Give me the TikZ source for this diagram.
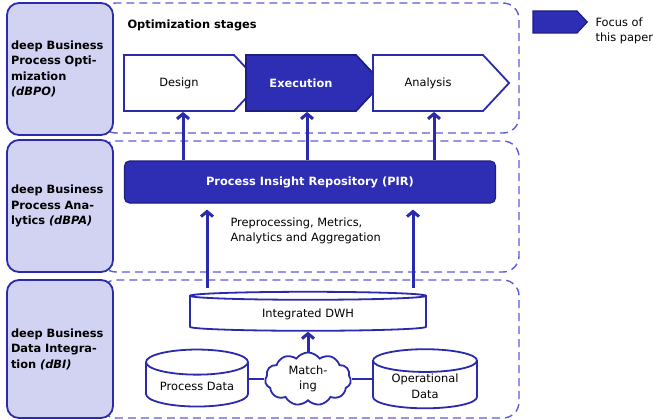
\documentclass[tikz,border=0pt]{standalone}
\usepackage{fontspec}
\setmainfont{DejaVu Sans}
\usepackage{xcolor}
\usepackage{tikz}
\usetikzlibrary{shapes,shapes.geometric,shapes.symbols}
\usetikzlibrary{calc,arrows.meta,positioning}
\definecolor{dblue}{RGB}{46,46,180}
\definecolor{lblue}{RGB}{42,42,172}
\definecolor{edgeb}{RGB}{30,30,130}
\definecolor{lav}{RGB}{210,210,243}
\definecolor{dashb}{RGB}{92,92,212}
\newcommand{\txtfont}{\fontsize{11.4}{15.5}\selectfont}
\tikzset{
  lay_box/.style = {rectangle, rounded corners=12pt, draw=lblue, line width=1.8pt, fill=lav, minimum width=106pt, text width=98pt, align=left, inner xsep=4pt, font=\txtfont\bfseries},
  region/.style = {draw=dashb, line width=1.4pt, dash pattern=on 8pt off 5pt, rounded corners=16pt},
  stg_w/.style = {signal, signal to=east, signal pointer angle=94, draw=lblue, line width=1.8pt, fill=white, minimum height=56pt, text width=100pt, align=center, inner xsep=5pt},
  stg_b/.style = {stg_w, fill=dblue, draw=edgeb, text=white, font=\txtfont\bfseries},
  pir_box/.style = {rectangle, rounded corners=5pt, fill=dblue, draw=edgeb, line width=1.2pt, text=white, font=\txtfont\bfseries, minimum width=371pt, minimum height=42pt},
  db_cyl/.style = {cylinder, shape border rotate=90, draw=lblue, line width=1.8pt, fill=white, align=center, inner sep=1pt},
  match_cloud/.style = {cloud, cloud puffs=11, cloud puff arc=110, aspect=1.6, draw=lblue, line width=1.8pt, fill=white, minimum width=86pt, minimum height=53pt, align=center, inner sep=1pt},
  flow/.style = {draw=lblue, line width=3pt, -{Straight Barb[length=5pt,width=12pt]}},
  link/.style = {draw=lblue, line width=2.6pt}
}
\begin{document}
\begin{tikzpicture}[x=1pt, y=-1pt, font=\txtfont]
\useasboundingbox (0,0) rectangle (653,420);
% dashed layers
\draw[region] (100,3) rectangle (519,133);
\draw[region] (100,141) rectangle (519,272);
\draw[region] (100,280) rectangle (519,418);

% layer labels
\node[lay_box, minimum height=132pt] (dbpo) at (60,69) {deep Business\\Process Opti-\\mization\\\textit{(dBPO)}};
\node[lay_box, minimum height=132pt] (dbpa) at (60,206) {deep Business\\Process Ana-\\lytics \textit{(dBPA)}};
\node[lay_box, minimum height=138pt] (dbi) at (60,349) {deep Business\\Data Integra-\\tion \textit{(dBI)}};

% optimization stages
\node[font=\txtfont\bfseries, anchor=west] (optst) at (124,25) {Optimization stages};
\node[stg_w] (design) at (179,83) {Design};
\node[stg_b] (exec) at (301,83) {Execution};
\node[stg_w] (analysis) at (428,83) {Analysis};

% analytics
\node[pir_box] (pir) at (310,182) {Process Insight Repository (PIR)};
\draw[flow] ([xshift=4pt]design.south |- pir.north) -- ([xshift=4pt]design.south);
\draw[flow] ([xshift=6pt]exec.south |- pir.north) -- ([xshift=6pt]exec.south);
\draw[flow] ([xshift=6pt]analysis.south |- pir.north) -- ([xshift=6pt]analysis.south);
\node[anchor=west, align=left] (prep) at (227,231) {Preprocessing, Metrics,\\Analytics and Aggregation};

% data integration
\node[db_cyl, minimum width=236pt, minimum height=39pt, aspect=0.085] (dwh) at (308,314) {Integrated DWH};
\node[db_cyl, minimum width=102pt, minimum height=57pt, aspect=0.33] (procdata) at (197,386) {Process Data};
\node[db_cyl, minimum width=104pt, minimum height=57pt, aspect=0.33] (opdata) at (425,386) {Operational\\Data};
\node[match_cloud] (match) at (308,379) {Match-\\ing};
\draw[link] (procdata.east |- match.west) -- (match.west);
\draw[link] (match.east) -- (opdata.west |- match.east);
\draw[flow] (match) -- (dwh);
\draw[flow, shorten <=3pt, shorten >=6pt] ([xshift=-101pt]dwh.north) -- ([xshift=-101pt]dwh.north |- pir.south);
\draw[flow, shorten <=3pt, shorten >=6pt] ([xshift=105pt]dwh.north) -- ([xshift=105pt]dwh.north |- pir.south);

% legend
\node[stg_b, text width=34pt, minimum height=22pt, line width=1.2pt] (focus) at (555,22) {};
\node[anchor=west, align=left] (focustxt) at (592,31) {Focus of\\this paper};
\end{tikzpicture}
\end{document}
